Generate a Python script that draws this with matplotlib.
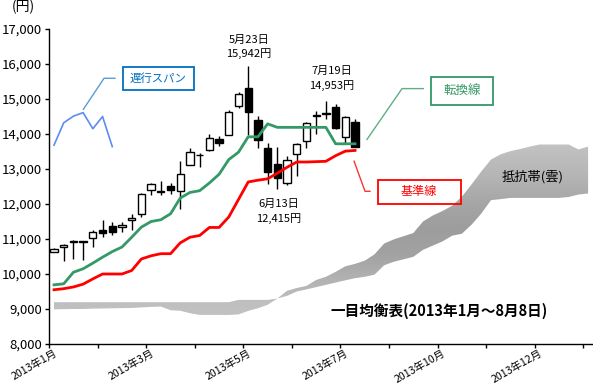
import numpy as np
import matplotlib
matplotlib.use('Agg')
import matplotlib.pyplot as plt
from matplotlib.colors import LinearSegmentedColormap
from matplotlib.patches import PathPatch, Rectangle
from matplotlib.transforms import ScaledTranslation

plt.rcParams['font.family'] = ['Noto Sans CJK JP', 'DejaVu Sans']

# ---- weekly candles (2013/1 - 2013/8/8) ----
open_ = [10640, 10780, 10930, 10930, 11030, 11250, 11360, 11350, 11550, 11720,
         12390, 12380, 12510, 12380, 13110, 13390, 13540, 13870, 13970, 14800,
         15300, 14400, 13590, 13150, 12600, 13440, 13800, 14520, 14580, 14780,
         13900, 14350]
high = [10750, 10860, 10960, 10940, 11250, 11530, 11490, 11490, 11700, 12300,
        12600, 12650, 12610, 13230, 13610, 13450, 14000, 13930, 14680, 15210,
        15942, 14520, 13730, 13620, 13370, 13750, 14340, 14660, 14953, 14850,
        14520, 14440]
low = [10620, 10380, 10430, 10400, 10760, 11060, 11100, 11200, 11270, 11630,
       12260, 12250, 12290, 11860, 13100, 13050, 13510, 13660, 13960, 14750,
       13960, 13590, 12580, 12415, 12550, 12800, 13600, 14000, 14420, 14150,
       13700, 13620]
close = [10720, 10840, 10900, 10900, 11200, 11170, 11190, 11410, 11610, 12290,
         12580, 12340, 12410, 12860, 13490, 13410, 13890, 13730, 14640, 15150,
         14640, 13820, 12900, 12730, 13260, 13700, 14320, 14540, 14600, 14160,
         14490, 13630]

tenkan = [9690, 9720, 10050, 10150, 10310, 10480, 10640, 10770, 11050, 11340,
          11500, 11550, 11720, 12170, 12330, 12380, 12600, 12850, 13270, 13480,
          13920, 13920, 14290, 14190, 14190, 14190, 14190, 14190, 14190, 13720,
          13720, 13720]
kijun = [9550, 9580, 9630, 9710, 9860, 10000, 10000, 10000, 10100, 10430,
         10520, 10580, 10580, 10890, 11050, 11100, 11330, 11330, 11630, 12130,
         12630, 12680, 12720, 12880, 13050, 13200, 13200, 13210, 13220, 13380,
         13510, 13530]
chikou = [13680, 14320, 14510, 14610, 14150, 14500, 13640]

span_a = [8990, 8995, 9000, 9000, 9010, 9015, 9020, 9025, 9030, 9045,
          9060, 9070, 8965, 8950, 8880, 8830, 8830, 8830, 8830, 8845,
          8945, 9020, 9120, 9300, 9520, 9600, 9660, 9830, 9920, 10060,
          10220, 10290, 10380, 10560, 10870, 10990, 11080, 11170, 11500, 11670,
          11800, 11950, 12210, 12560, 12930, 13270, 13420, 13510, 13570, 13640,
          13700, 13700, 13700, 13700, 13560, 13640]
span_b = [9195, 9195, 9195, 9195, 9195, 9195, 9195, 9195, 9195, 9195,
          9195, 9195, 9195, 9195, 9195, 9195, 9195, 9195, 9195, 9260,
          9260, 9260, 9260, 9300, 9375, 9500, 9560, 9625, 9690, 9756,
          9820, 9880, 9920, 9980, 10250, 10350, 10420, 10490, 10690, 10810,
          10930, 11095, 11150, 11410, 11725, 12110, 12140, 12175, 12175, 12175,
          12175, 12175, 12175, 12200, 12270, 12300]

x_tick_pos = [-0.5 + 5 * k for k in range(12)]
x_tick_labels = ['2013年1月', '', '2013年3月', '', '2013年5月', '', '2013年7月', '',
                 '2013年10月', '', '2013年12月', '']
y_ticks = list(range(8000, 17001, 1000))

weeks = np.arange(len(close))
cloud_weeks = np.arange(len(span_a))
chikou_weeks = np.arange(len(chikou))

fig = plt.figure(figsize=(5.93, 3.86), dpi=100)
fig.patch.set_facecolor('white')
ax = fig.add_axes([49 / 593, 42 / 386, 542.5 / 593, 315 / 386])
ax.set_facecolor('none')

# ---- cloud with vertical gradient ----
poly = ax.fill_between(cloud_weeks, span_a, span_b, color='none', lw=0)
clip = PathPatch(poly.get_paths()[0], transform=ax.transData,
                 facecolor='none', edgecolor='none')
ax.add_patch(clip)
cmap = LinearSegmentedColormap.from_list('cloud', [
    (0.00, '#c2c2c2'), (0.10, '#bfbfbf'), (0.22, '#b2b2b2'), (0.36, '#a2a2a2'),
    (0.50, '#9d9d9d'), (0.64, '#a5a5a5'), (0.80, '#b5b5b5'), (1.00, '#c4c4c4')])
grad = np.linspace(0, 1, 256).reshape(-1, 1)
im = ax.imshow(grad, extent=[-1, 56, 8700, 13800], origin='lower',
               aspect='auto', cmap=cmap, zorder=1, interpolation='bicubic')
im.set_clip_path(clip)

# ---- candles ----
o = np.array(open_); c = np.array(close)
ax.vlines(weeks, low, high, color='black', lw=1, zorder=3)
bottoms = np.minimum(o, c)
heights = np.maximum(np.abs(c - o), 15)
colors = ['white' if cc >= oo else 'black' for oo, cc in zip(o, c)]
ax.bar(weeks, heights, bottom=bottoms, width=0.75, color=colors,
       edgecolor='black', linewidth=1, zorder=4)

# ---- lines ----
ax.plot(weeks, tenkan, color='#339966', lw=2, zorder=5)
ax.plot(weeks, kijun, color='#ff0000', lw=2, zorder=5)
ax.plot(chikou_weeks, chikou, color='#5b8def', lw=1.2, zorder=5)

# ---- axes ----
ax.set_xlim(-0.515, 55.35)
ax.set_ylim(8000, 17000)
ax.set_yticks(y_ticks)
ax.set_yticklabels([f'{v:,}' for v in y_ticks], fontsize=9.5)
ax.set_xticks(x_tick_pos)
ax.set_xticklabels(x_tick_labels, fontsize=7.6, rotation=30, ha='right',
                   va='center', rotation_mode='anchor')
for sp in ['top', 'right']:
    ax.spines[sp].set_visible(False)
for sp in ['left', 'bottom']:
    ax.spines[sp].set_linewidth(1)
    ax.spines[sp].set_color('black')
ax.tick_params(axis='y', direction='out', length=3, width=1, pad=2)
ax.tick_params(axis='x', direction='out', length=3, width=1, pad=3)
off = ScaledTranslation(7 / 100, 0, fig.dpi_scale_trans)
for lab in ax.get_xticklabels():
    lab.set_transform(lab.get_transform() + off)

fig.text(23.5 / 593, 1 - 7 / 386, '(円)', fontsize=10, ha='center', va='center')

# ---- annotations ----
ax.text(20.1, 16490, '5月23日\n15,942円', fontsize=8, ha='center', va='center',
        linespacing=1.45)
ax.text(28.6, 15590, '7月19日\n14,953円', fontsize=8, ha='center', va='center',
        linespacing=1.45)
ax.text(23.1, 11780, '6月13日\n12,415円', fontsize=8, ha='center', va='center',
        linespacing=1.45)

# callout: 遅行スパン
ax.add_patch(Rectangle((7.11, 15257), 7.31, 659, fill=False, edgecolor='#0070c0',
                       lw=1.3, zorder=6))
ax.text(10.76, 15587, '遅行スパン', color='#0070c0', fontsize=8.2,
        ha='center', va='center', zorder=6)
ax.plot([3.02, 5.15, 6.28], [14704, 15592, 15592], color='#5b9bd5', lw=1, zorder=6)

# callout: 転換線
ax.add_patch(Rectangle((38.83, 14839), 6.42, 791, fill=False, edgecolor='#339966',
                       lw=1.3, zorder=6))
ax.text(42.02, 15234, '転換線', color='#339966', fontsize=9,
        ha='center', va='center', zorder=6)
ax.plot([32.23, 35.84, 38.03], [13845, 15297, 15297], color='#5fae84', lw=1, zorder=6)

# callout: 基準線
ax.add_patch(Rectangle((33.34, 12011), 8.54, 668, fill=False, edgecolor='#ff0000',
                       lw=1.3, zorder=6))
ax.text(37.59, 12346, '基準線', color='#ff0000', fontsize=8.7,
        ha='center', va='center', zorder=6)
ax.plot([30.9, 32.03, 32.54], [13223, 12363, 12363], color='#ff3333', lw=1, zorder=6)

ax.text(49.33, 12785, '抵抗帯(雲)', fontsize=9.5, ha='center', va='center', zorder=6)
ax.text(39.65, 8945, '一目均衡表(2013年1月～8月8日)', fontsize=10.5,
        fontweight='bold', ha='center', va='center', zorder=6)

fig.savefig('out.png', dpi=100, facecolor='white')
